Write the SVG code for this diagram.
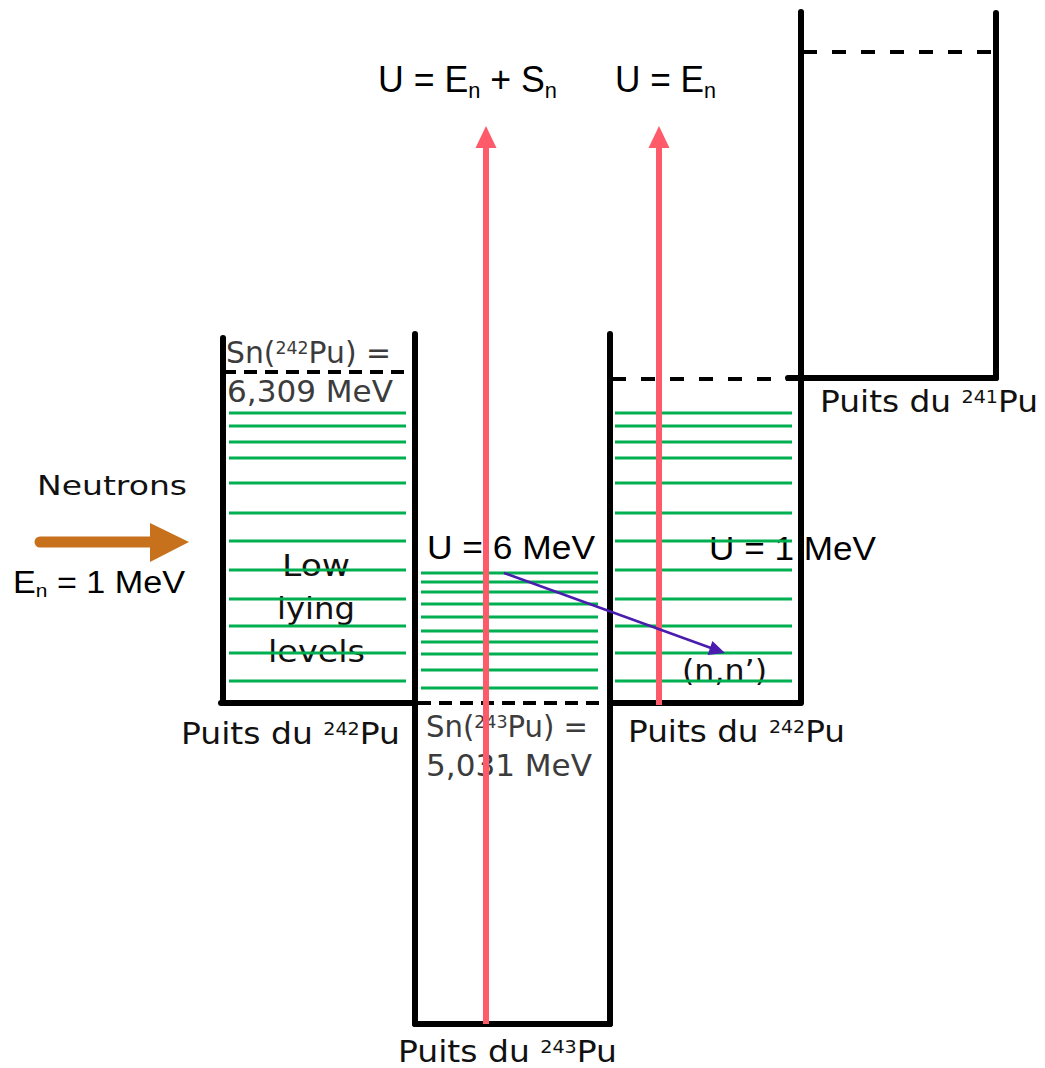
<svg xmlns="http://www.w3.org/2000/svg" width="1045" height="1068" viewBox="0 0 1045 1068">
<style>
.wall{stroke:#000;stroke-width:6;stroke-linecap:round;fill:none}
.dash1{stroke:#000;stroke-width:4;stroke-dasharray:13 8;fill:none}
.dash2{stroke:#000;stroke-width:4;stroke-dasharray:14 15;fill:none}
.lvl{stroke:#00B050;stroke-width:3;fill:none}
.ar{font-family:"Liberation Sans",Arial,sans-serif;fill:#000}
.cg{font-family:"DejaVu Sans","Liberation Sans",sans-serif;fill:#111}
.sn{font-family:"DejaVu Sans","Liberation Sans",sans-serif;fill:#3c3c3c}
.red{stroke:#FF5A6A;stroke-width:6;fill:none}
</style>
<rect width="1045" height="1068" fill="#fff"/>

<g id="labels">
<text class="ar" x="378" y="92" font-size="36" textLength="179" lengthAdjust="spacingAndGlyphs">U = E<tspan font-size="22" dy="6">n</tspan><tspan dy="-6"> + S</tspan><tspan font-size="22" dy="6">n</tspan></text>
<text class="ar" x="615" y="92" font-size="36" textLength="101" lengthAdjust="spacingAndGlyphs">U = E<tspan font-size="22" dy="6">n</tspan></text>
<text class="cg" x="37" y="495" font-size="27" textLength="150" lengthAdjust="spacingAndGlyphs">Neutrons</text>
<text class="ar" x="13" y="593" font-size="31" textLength="172" lengthAdjust="spacingAndGlyphs">E<tspan font-size="19" dy="4">n</tspan><tspan dy="-4"> = 1 MeV</tspan></text>
<text class="ar" x="427" y="559" font-size="33" textLength="168" lengthAdjust="spacingAndGlyphs">U = 6 MeV</text>
<text class="ar" x="709" y="560" font-size="33" textLength="167" lengthAdjust="spacingAndGlyphs">U = 1 MeV</text>
</g>

<g id="well-242-left">
<text class="cg" x="282" y="576" font-size="31" textLength="68" lengthAdjust="spacingAndGlyphs">Low</text>
<text class="cg" x="277" y="619" font-size="31" textLength="78" lengthAdjust="spacingAndGlyphs">lying</text>
<text class="cg" x="268" y="662" font-size="31" textLength="97" lengthAdjust="spacingAndGlyphs">levels</text>
<text class="sn" x="226" y="363" font-size="31" textLength="165" lengthAdjust="spacingAndGlyphs">Sn(<tspan font-size="18" dy="-9">242</tspan><tspan dy="9">Pu) =</tspan></text>
<text class="sn" x="227" y="402" font-size="30" textLength="166" lengthAdjust="spacingAndGlyphs">6,309 MeV</text>
<text class="cg" x="181" y="744" font-size="31" textLength="219" lengthAdjust="spacingAndGlyphs">Puits du <tspan font-size="18" dy="-9">242</tspan><tspan dy="9">Pu</tspan></text>
<g>
<line class="lvl" x1="229" y1="413" x2="406" y2="413"/>
<line class="lvl" x1="229" y1="426" x2="406" y2="426"/>
<line class="lvl" x1="229" y1="442" x2="406" y2="442"/>
<line class="lvl" x1="229" y1="458" x2="406" y2="458"/>
<line class="lvl" x1="229" y1="483" x2="406" y2="483"/>
<line class="lvl" x1="229" y1="513" x2="406" y2="513"/>
<line class="lvl" x1="229" y1="541" x2="406" y2="541"/>
<line class="lvl" x1="229" y1="570" x2="406" y2="570"/>
<line class="lvl" x1="229" y1="599" x2="406" y2="599"/>
<line class="lvl" x1="229" y1="626" x2="406" y2="626"/>
<line class="lvl" x1="229" y1="653" x2="406" y2="653"/>
<line class="lvl" x1="229" y1="681" x2="406" y2="681"/>
</g>
<line class="dash1" x1="223" y1="372" x2="415" y2="372"/>
<line class="wall" x1="223" y1="338" x2="223" y2="703"/>
<line class="wall" x1="221" y1="703" x2="415" y2="703"/>
</g>

<g id="well-243">
<text class="sn" x="426" y="737" font-size="30" textLength="162" lengthAdjust="spacingAndGlyphs">Sn(<tspan font-size="18" dy="-9">243</tspan><tspan dy="9">Pu) =</tspan></text>
<text class="sn" x="426" y="776" font-size="30" textLength="166" lengthAdjust="spacingAndGlyphs">5,031 MeV</text>
<text class="cg" x="398" y="1062" font-size="31" textLength="219" lengthAdjust="spacingAndGlyphs">Puits du <tspan font-size="18" dy="-9">243</tspan><tspan dy="9">Pu</tspan></text>
<g>
<line class="lvl" x1="421" y1="573" x2="598" y2="573"/>
<line class="lvl" x1="421" y1="582" x2="598" y2="582"/>
<line class="lvl" x1="421" y1="592" x2="598" y2="592"/>
<line class="lvl" x1="421" y1="604" x2="598" y2="604"/>
<line class="lvl" x1="421" y1="617" x2="598" y2="617"/>
<line class="lvl" x1="421" y1="631" x2="598" y2="631"/>
<line class="lvl" x1="421" y1="642" x2="598" y2="642"/>
<line class="lvl" x1="421" y1="654" x2="598" y2="654"/>
<line class="lvl" x1="421" y1="670" x2="598" y2="670"/>
<line class="lvl" x1="421" y1="688" x2="598" y2="688"/>
</g>
<line class="dash1" x1="418" y1="703" x2="610" y2="703"/>
<line class="wall" x1="415" y1="334" x2="415" y2="1024"/>
<line class="wall" x1="610" y1="334" x2="610" y2="1024"/>
<line class="wall" x1="415" y1="1024" x2="610" y2="1024"/>
</g>

<g id="well-242-right">
<text class="cg" x="628" y="742" font-size="31" textLength="217" lengthAdjust="spacingAndGlyphs">Puits du <tspan font-size="18" dy="-9">242</tspan><tspan dy="9">Pu</tspan></text>
<text class="cg" x="682" y="681" font-size="30" textLength="85" lengthAdjust="spacingAndGlyphs">(n,n’)</text>
<g>
<line class="lvl" x1="615" y1="413" x2="792" y2="413"/>
<line class="lvl" x1="615" y1="426" x2="792" y2="426"/>
<line class="lvl" x1="615" y1="442" x2="792" y2="442"/>
<line class="lvl" x1="615" y1="458" x2="792" y2="458"/>
<line class="lvl" x1="615" y1="483" x2="792" y2="483"/>
<line class="lvl" x1="615" y1="513" x2="792" y2="513"/>
<line class="lvl" x1="615" y1="541" x2="792" y2="541"/>
<line class="lvl" x1="615" y1="570" x2="792" y2="570"/>
<line class="lvl" x1="615" y1="599" x2="792" y2="599"/>
<line class="lvl" x1="615" y1="626" x2="792" y2="626"/>
<line class="lvl" x1="615" y1="653" x2="792" y2="653"/>
<line class="lvl" x1="615" y1="681" x2="792" y2="681"/>
</g>
<line class="dash2" x1="612" y1="379" x2="800" y2="379"/>
<line class="wall" x1="610" y1="703" x2="800" y2="703"/>
</g>

<g id="well-241">
<text class="cg" x="820" y="412" font-size="31" textLength="218" lengthAdjust="spacingAndGlyphs">Puits du <tspan font-size="18" dy="-9">241</tspan><tspan dy="9">Pu</tspan></text>
<line class="dash2" x1="803" y1="52" x2="995" y2="52"/>
<line class="wall" x1="801" y1="12" x2="801" y2="703"/>
<line class="wall" x1="996" y1="13" x2="996" y2="378"/>
<line class="wall" x1="788" y1="378" x2="996" y2="378"/>
</g>

<g id="connectors">
<line class="red" x1="486" y1="1024" x2="486" y2="145"/>
<polygon points="475.5,148 486,126 496.5,148" fill="#FF5A6A"/>
<line class="red" x1="659" y1="705" x2="659" y2="145"/>
<polygon points="648.5,148 659,126 669.5,148" fill="#FF5A6A"/>
<line x1="504" y1="573" x2="711" y2="648" stroke="#4A1DAE" stroke-width="2.5"/>
<polygon points="707.6,655 725,653 712.4,641" fill="#4A1DAE"/>
<line x1="40" y1="542" x2="152" y2="542" stroke="#C7711C" stroke-width="11" stroke-linecap="round"/>
<polygon points="150,523 189,542 150,562" fill="#C7711C"/>
</g>
</svg>
